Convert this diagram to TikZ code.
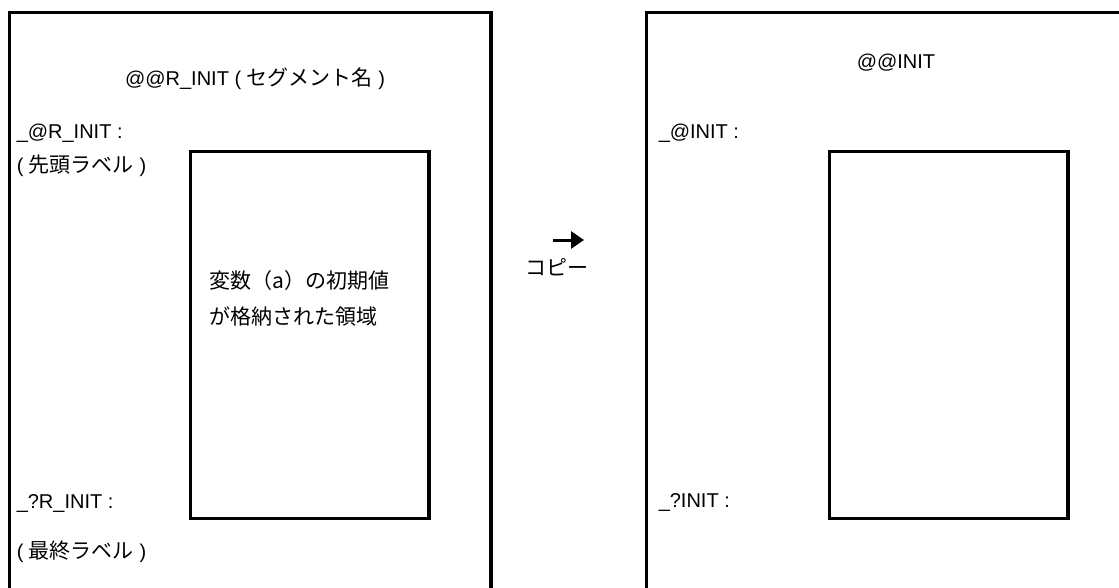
\documentclass[tikz,border=0pt]{standalone}
\usepackage{fontspec}
\setmainfont{Liberation Sans}
\newfontfamily\jp[Scale=1.05]{Noto Sans CJK JP}
\usetikzlibrary{positioning, arrows.meta}

\begin{document}
\begin{tikzpicture}[x=1pt, y=-1pt, line width=3.5pt,
  font=\fontsize{20}{24}\selectfont,
  lbl/.style={anchor=west, inner sep=0pt},
  area/.style={draw, line join=miter},
  block/.style={draw, outer sep=0pt, inner sep=0pt, anchor=north west,
    minimum width=238.7pt, minimum height=367.4pt}]
  \useasboundingbox (0,0) rectangle (1119,587);

  % source section (open below)
  \draw[area] (9.3,600) -- (9.3,12.5) -- (491,12.5) -- (491,600);
  \node[inner sep=0pt] (srcname) at (255,79) {@@R\_INIT ( {\jp セグメント名} )};
  \node[lbl] (srctop) at (15,133) {\_@R\_INIT :};
  \node[lbl] (srctopj) at (15,166) {( {\jp 先頭ラベル} )};
  \node[lbl] (srcend) at (15,503) {\_?R\_INIT :};
  \node[lbl] (srcendj) at (15,552) {( {\jp 最終ラベル} )};
  \node[block] (srcdata) at (190.3,151.3) {};
  \node[lbl] (srcdata1) at (208,281) {\jp 変数（a）の初期値};
  \node[lbl] (srcdata2) at (208,316) {\jp が格納された領域};

  % copy arrow
  \coordinate (cpyS) at (553,240);
  \coordinate (cpyE) at (584,240);
  \draw[-{Triangle[length=13pt, width=17pt]}, line width=3pt] (cpyS) -- (cpyE);
  \node[inner sep=0pt, below=17pt of cpyS, xshift=4pt] (cpylbl) {\jp コピー};

  % destination section (open right and below)
  \draw[area] (646.3,600) -- (646.3,12.5) -- (1130,12.5);
  \node[inner sep=0pt] (dstname) at (896,63) {@@INIT};
  \node[lbl] (dsttop) at (657,133) {\_@INIT :};
  \node[lbl] (dstend) at (657,502) {\_?INIT :};
  \node[block] (dstdata) at (829.3,151.3) {};
\end{tikzpicture}
\end{document}
